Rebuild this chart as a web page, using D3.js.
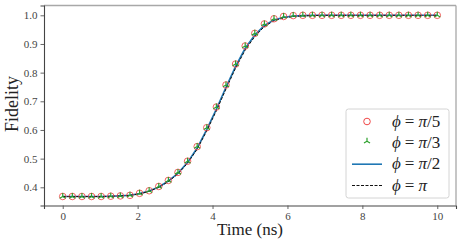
<!DOCTYPE html>
<html>
<head>
<meta charset="utf-8">
<script src="https://cdn.jsdelivr.net/npm/d3@7"></script>
<style>
  body { margin: 0; background: #fff; }
  text { font-family: "Liberation Serif", "DejaVu Serif", serif; }
</style>
</head>
<body>
<script>
// time points: 40 samples from 0 to 10 ns
var times = d3.range(40).map(function (i) { return i * 10 / 39; });

// fidelity for phi = pi/5 and pi/3 (same markers)
var fidPi5 = [0.368, 0.368, 0.368, 0.368, 0.368, 0.369, 0.370, 0.372, 0.379, 0.388,
              0.403, 0.424, 0.452, 0.491, 0.542, 0.608, 0.680, 0.757, 0.830, 0.893,
              0.937, 0.970, 0.988, 0.996, 0.999, 1.0, 1.0, 1.0, 1.0, 1.0,
              1.0, 1.0, 1.0, 1.0, 1.0, 1.0, 1.0, 1.0, 1.0, 1.0];
var fidPi3 = [0.368, 0.368, 0.368, 0.368, 0.368, 0.369, 0.370, 0.372, 0.379, 0.388,
              0.403, 0.424, 0.452, 0.491, 0.542, 0.608, 0.680, 0.757, 0.830, 0.893,
              0.937, 0.970, 0.988, 0.996, 0.999, 1.0, 1.0, 1.0, 1.0, 1.0,
              1.0, 1.0, 1.0, 1.0, 1.0, 1.0, 1.0, 1.0, 1.0, 1.0];
// phi = pi/2 (solid line)
var fidPi2 = [0.368, 0.368, 0.368, 0.368, 0.368, 0.369, 0.370, 0.372, 0.378, 0.387,
              0.401, 0.422, 0.449, 0.487, 0.537, 0.602, 0.673, 0.749, 0.822, 0.885,
              0.931, 0.965, 0.984, 0.993, 0.997, 0.999, 1.0, 1.0, 1.0, 1.0,
              1.0, 1.0, 1.0, 1.0, 1.0, 1.0, 1.0, 1.0, 1.0, 1.0];
// phi = pi (dashed line)
var fidPi = [0.368, 0.368, 0.368, 0.368, 0.368, 0.369, 0.370, 0.372, 0.377, 0.386,
             0.400, 0.420, 0.447, 0.484, 0.533, 0.597, 0.667, 0.743, 0.816, 0.879,
             0.926, 0.961, 0.981, 0.991, 0.996, 0.998, 0.999, 1.0, 1.0, 1.0,
             1.0, 1.0, 1.0, 1.0, 1.0, 1.0, 1.0, 1.0, 1.0, 1.0];

var xTicks = [0, 2, 4, 6, 8, 10];
var yTicks = [0.4, 0.5, 0.6, 0.7, 0.8, 0.9, 1.0];
var legendLabels = ["π/5", "π/3", "π/2", "π"];

var svg = d3.select("body")
    .append("svg")
    .attr("width", 463)
    .attr("height", 246);

var x = d3.scaleLinear().domain([-0.5, 10.5]).range([44, 456]);
var y = d3.scaleLinear().domain([0.3365, 1.0342]).range([205.5, 5.5]);

// frame (top/right lighter)
svg.append("line").attr("x1", 44).attr("x2", 456).attr("y1", 5.5).attr("y2", 5.5)
    .attr("stroke", "#a8a8a8").attr("stroke-width", 1.3);
svg.append("line").attr("x1", 456).attr("x2", 456).attr("y1", 5.5).attr("y2", 205.5)
    .attr("stroke", "#a8a8a8").attr("stroke-width", 1.3);

// axes
var xAxis = svg.append("g")
    .attr("transform", "translate(0,205.5)")
    .call(d3.axisBottom(x).tickValues(xTicks).tickSize(3.5).tickPadding(3).tickFormat(d3.format("d")));
var yAxis = svg.append("g")
    .attr("transform", "translate(44,0)")
    .call(d3.axisLeft(y).tickValues(yTicks).tickSize(3.5).tickPadding(3).tickFormat(d3.format(".1f")));

[xAxis, yAxis].forEach(function (g) {
    g.select(".domain").attr("stroke", "#444").attr("stroke-width", 1.1);
    g.selectAll(".tick line").attr("stroke", "#555").attr("stroke-width", 0.9);
    g.selectAll(".tick text")
        .attr("fill", "#444")
        .style("font-family", "'Liberation Serif', serif")
        .style("font-size", "11px");
});

// axis titles
svg.append("text")
    .attr("x", 250).attr("y", 235)
    .attr("text-anchor", "middle")
    .attr("fill", "#222")
    .style("font-size", "17px")
    .text("Time (ns)");

svg.append("text")
    .attr("transform", "translate(18,104) rotate(-90)")
    .attr("text-anchor", "middle")
    .attr("fill", "#222")
    .style("font-size", "18px")
    .text("Fidelity");

// lines
var line = function (vals) {
    return d3.line()
        .x(function (d, i) { return x(times[i]); })
        .y(function (d) { return y(d); })(vals);
};

svg.append("path")
    .attr("d", line(fidPi2))
    .attr("fill", "none")
    .attr("stroke", "#1f77b4")
    .attr("stroke-width", 1.6);

svg.append("path")
    .attr("d", line(fidPi))
    .attr("fill", "none")
    .attr("stroke", "#111")
    .attr("stroke-width", 1)
    .attr("stroke-dasharray", "3,1.5");

// circles (pi/5)
svg.append("g").selectAll("circle")
    .data(fidPi5)
    .enter().append("circle")
    .attr("cx", function (d, i) { return x(times[i]); })
    .attr("cy", function (d) { return y(d); })
    .attr("r", 3.3)
    .attr("fill", "none")
    .attr("stroke", "#f04848")
    .attr("stroke-opacity", 0.85)
    .attr("stroke-width", 1);

// tri_up markers (pi/3)
var tri = function (cx, cy, s) {
    var dx = s * Math.sin(Math.PI / 3), dy = s * 0.5;
    return "M" + cx + "," + cy + "L" + cx + "," + (cy - s) +
        "M" + cx + "," + cy + "L" + (cx - dx) + "," + (cy + dy) +
        "M" + cx + "," + cy + "L" + (cx + dx) + "," + (cy + dy);
};
svg.append("g").selectAll("path")
    .data(fidPi3)
    .enter().append("path")
    .attr("d", function (d, i) { return tri(x(times[i]), y(d), 3.5); })
    .attr("fill", "none")
    .attr("stroke", "#2ca02c")
    .attr("stroke-width", 1.2);

// legend
var leg = svg.append("g");
leg.append("rect")
    .attr("x", 346).attr("y", 109)
    .attr("width", 103).attr("height", 89)
    .attr("rx", 2.5)
    .attr("fill", "#fff").attr("fill-opacity", 0.8)
    .attr("stroke", "#d4d4d4").attr("stroke-width", 1);

var rowY = [121.5, 142.8, 164.2, 185.5];
var hx0 = 352, hx1 = 382, hc = 367;

leg.append("circle").attr("cx", hc).attr("cy", rowY[0]).attr("r", 3.3)
    .attr("fill", "none").attr("stroke", "#f04848").attr("stroke-width", 1);
leg.append("path").attr("d", tri(hc, rowY[1] - 1.5, 3.5))
    .attr("fill", "none").attr("stroke", "#2ca02c").attr("stroke-width", 1.2);
leg.append("line").attr("x1", hx0).attr("x2", hx1).attr("y1", rowY[2]).attr("y2", rowY[2])
    .attr("stroke", "#1f77b4").attr("stroke-width", 1.6);
leg.append("line").attr("x1", hx0).attr("x2", hx1).attr("y1", rowY[3]).attr("y2", rowY[3])
    .attr("stroke", "#111").attr("stroke-width", 1).attr("stroke-dasharray", "3,1.5");

legendLabels.forEach(function (lab, i) {
    var t = leg.append("text")
        .attr("x", 392).attr("y", rowY[i] + 5)
        .attr("fill", "#222")
        .style("font-size", "17px");
    t.append("tspan").style("font-style", "italic").text("ϕ");
    t.append("tspan").attr("dx", 4).text("=");
    t.append("tspan").attr("dx", 4).style("font-style", "italic").text("π");
    if (lab.length > 1) t.append("tspan").text(lab.slice(1));
});
</script>
</body>
</html>
